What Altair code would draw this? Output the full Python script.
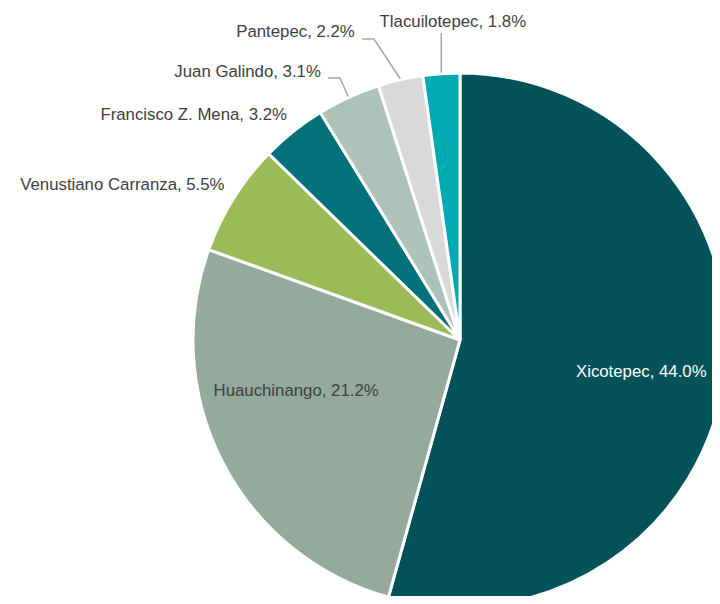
import math
import altair as alt
import pandas as pd

# ---- data ----
categories = ["Xicotepec", "Huauchinango", "Venustiano Carranza", "Francisco Z. Mena",
              "Juan Galindo", "Pantepec", "Tlacuilotepec"]
shares = [44.0, 21.2, 5.5, 3.2, 3.1, 2.2, 1.8]
colors = ["#03525A", "#93AA9D", "#9BBB59", "#02717A", "#ADC2B8", "#D9D9D9", "#00AAB3"]

df = pd.DataFrame({"category": categories, "share": shares, "order": list(range(len(categories)))})
df["label"] = [f"{c}, {v:.1f}%" for c, v in zip(categories, shares)]

# ---- layout ----
CX, CY, R = 452, 332, 267
FONT = "Liberation Sans Narrow, Arial Narrow, Liberation Sans, sans-serif"
TEXT = "#404040"
FS = 16.8

label_layout = {
    "Xicotepec": dict(radius=190, dx=-7, dy=6, align="center", color="white"),
    "Huauchinango": dict(radius=171, dx=-12, dy=-28, align="center", color=TEXT),
    "Venustiano Carranza": dict(radius=280, dx=2, dy=-7, align="right", color=TEXT),
    "Francisco Z. Mena": dict(radius=285, dx=5, dy=-2, align="right", color=TEXT),
    "Juan Galindo": dict(radius=300, dx=-14, dy=5, align="right", color=TEXT),
    "Pantepec": dict(radius=315, dx=-35, dy=-1, align="right", color=TEXT),
    "Tlacuilotepec": dict(radius=318, dx=15, dy=-1, align="center", color=TEXT),
}

# leader line bends/ends (chart pixel coords), start is on the slice edge at its mid angle
leader_layout = {
    "Juan Galindo": [(332, 70), (320, 70)],
    "Pantepec": [(366, 31), (354, 31)],
    "Tlacuilotepec": [(435, 25)],
}

total = sum(shares)
cum = 0.0
mid_angle = {}
for c, v in zip(categories, shares):
    mid_angle[c] = 2 * math.pi * (cum + v / 2) / total
    cum += v

rows = []
for c, pts in leader_layout.items():
    a = mid_angle[c]
    sx, sy = CX + (R + 1) * math.sin(a), CY - (R + 1) * math.cos(a)
    if c == "Tlacuilotepec":
        pts = [(sx, pts[0][1])]
    allpts = [(sx, sy)] + pts
    for i, (px, py) in enumerate(allpts):
        rows.append({"category": c, "seq": i, "px": px, "py": py})
leaders_df = pd.DataFrame(rows)

color_scale = alt.Scale(domain=categories, range=colors)

pie = alt.Chart(df).mark_arc(outerRadius=R, stroke="white", strokeWidth=3).encode(
    theta=alt.Theta("share:Q", stack=True),
    color=alt.Color("category:N", scale=color_scale, legend=None),
    order=alt.Order("order:Q"),
    x=alt.value(CX),
    y=alt.value(CY),
)

leaders = alt.Chart(leaders_df).mark_line(color="#A6A6A6", strokeWidth=1.5).encode(
    x=alt.X("px:Q", scale=None),
    y=alt.Y("py:Q", scale=None),
    detail="category:N",
    order="seq:Q",
)

base = alt.Chart(df).transform_window(
    cum="sum(share)", sort=[alt.SortField("order")], frame=[None, 0]
).transform_calculate(mid="datum.cum - datum.share / 2")

layers = [pie, leaders]
for cat, lay in label_layout.items():
    layers.append(
        base.transform_filter(alt.datum.category == cat).mark_text(
            align=lay["align"], baseline="middle", dx=lay["dx"], dy=lay["dy"],
            font=FONT, fontSize=FS, color=lay["color"],
        ).encode(
            theta=alt.Theta("mid:Q", stack=None),
            radius=alt.value(lay["radius"]),
            text="label:N",
            x=alt.value(CX),
            y=alt.value(CY),
        )
    )

chart = alt.layer(*layers).properties(
    width=704, height=588, padding=0,
    autosize=alt.AutoSizeParams(type="none"),
).configure_view(stroke=None)

chart.save("out.html", embed_options={"renderer": "svg", "actions": False})
